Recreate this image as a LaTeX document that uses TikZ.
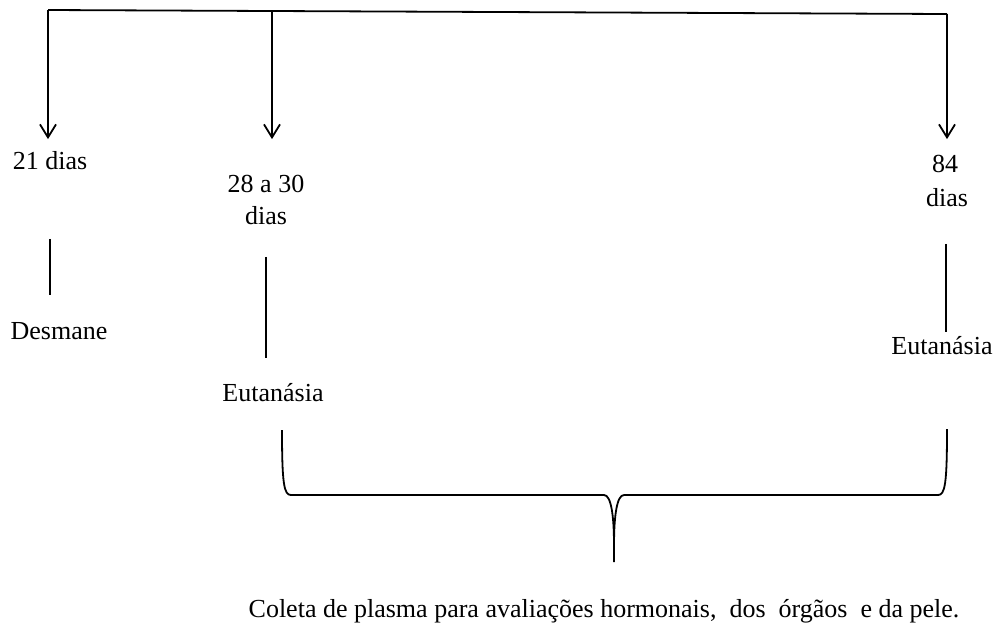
\documentclass[tikz,border=0pt]{standalone}
\usepackage{fontspec}
\setmainfont{Liberation Serif}
\usetikzlibrary{arrows.meta,calc}
\begin{document}
\begin{tikzpicture}[x=1pt,y=-1pt,
  line width=1.8pt,
  lbl/.style={anchor=base,inner sep=0pt,text height=18pt,text depth=6pt,font=\rmfamily\fontsize{26}{30}\selectfont},
  arr/.style={-{Straight Barb[length=13pt,width=16pt,line width=1.8pt]}},
  stem/.style={line width=1.5pt}]
\useasboundingbox (0,0) rectangle (1000,633);
% top bar
\coordinate (t0) at (48,10);
\coordinate (tR) at (947,14);
\coordinate (t2) at (272,11);
\draw (t0) -- (t2) -- (tR);
% labels
\node[lbl] (d21) at (50,169) {21 dias};
\node[lbl] (d28a) at (266,192) {28 a 30};
\node[lbl] (d28b) at (266,224) {dias};
\node[lbl] (d84a) at (945,172) {84};
\node[lbl] (d84b) at (947,206) {dias};
\node[lbl] (desm) at (59,339) {Desmane};
\node[lbl] (eut1) at (273,401) {Eutanásia};
\node[lbl] (eut2) at (942,354) {Eutanásia};
\node[lbl] (coleta) at (604,617) {Coleta de plasma para avaliações hormonais,\ \ dos\ \ órgãos\ \ e da pele.};
% arrows
\draw[arr,shorten >=11pt] (t0) -- (t0 |- d21.north);
\draw[arr,shorten >=34pt] (t2) -- (t2 |- d28a.north);
\draw[arr,shorten >=14pt] (tR) -- (tR |- d84a.north);
% stems
\draw[stem,shorten <=63pt,shorten >=25pt] (d21.south) -- (d21.south |- desm.north);
\draw[stem,shorten <=26pt,shorten >=24pt] (d28b.south) -- (d28b.south |- eut1.north);
\draw[stem,shorten <=31pt,shorten >=3pt] ($(d84b.south)+(-1,0)$) -- ($(d84b.south |- eut2.north)+(-1,0)$);
% brace
\coordinate (bl) at (282,430);
\coordinate (br) at (947,429);
\coordinate (bt) at (614,562);
\draw (bl) .. controls (282,484) and (284,495) .. (291,495) -- (604,495)
  .. controls (611,495) and (614,515) .. (614,545) -- (bt);
\draw (624,495) .. controls (617,495) and (614,515) .. (614,545);
\draw (624,495) -- (938,495) .. controls (945,495) and (947,484) .. (br);
\end{tikzpicture}
\end{document}
